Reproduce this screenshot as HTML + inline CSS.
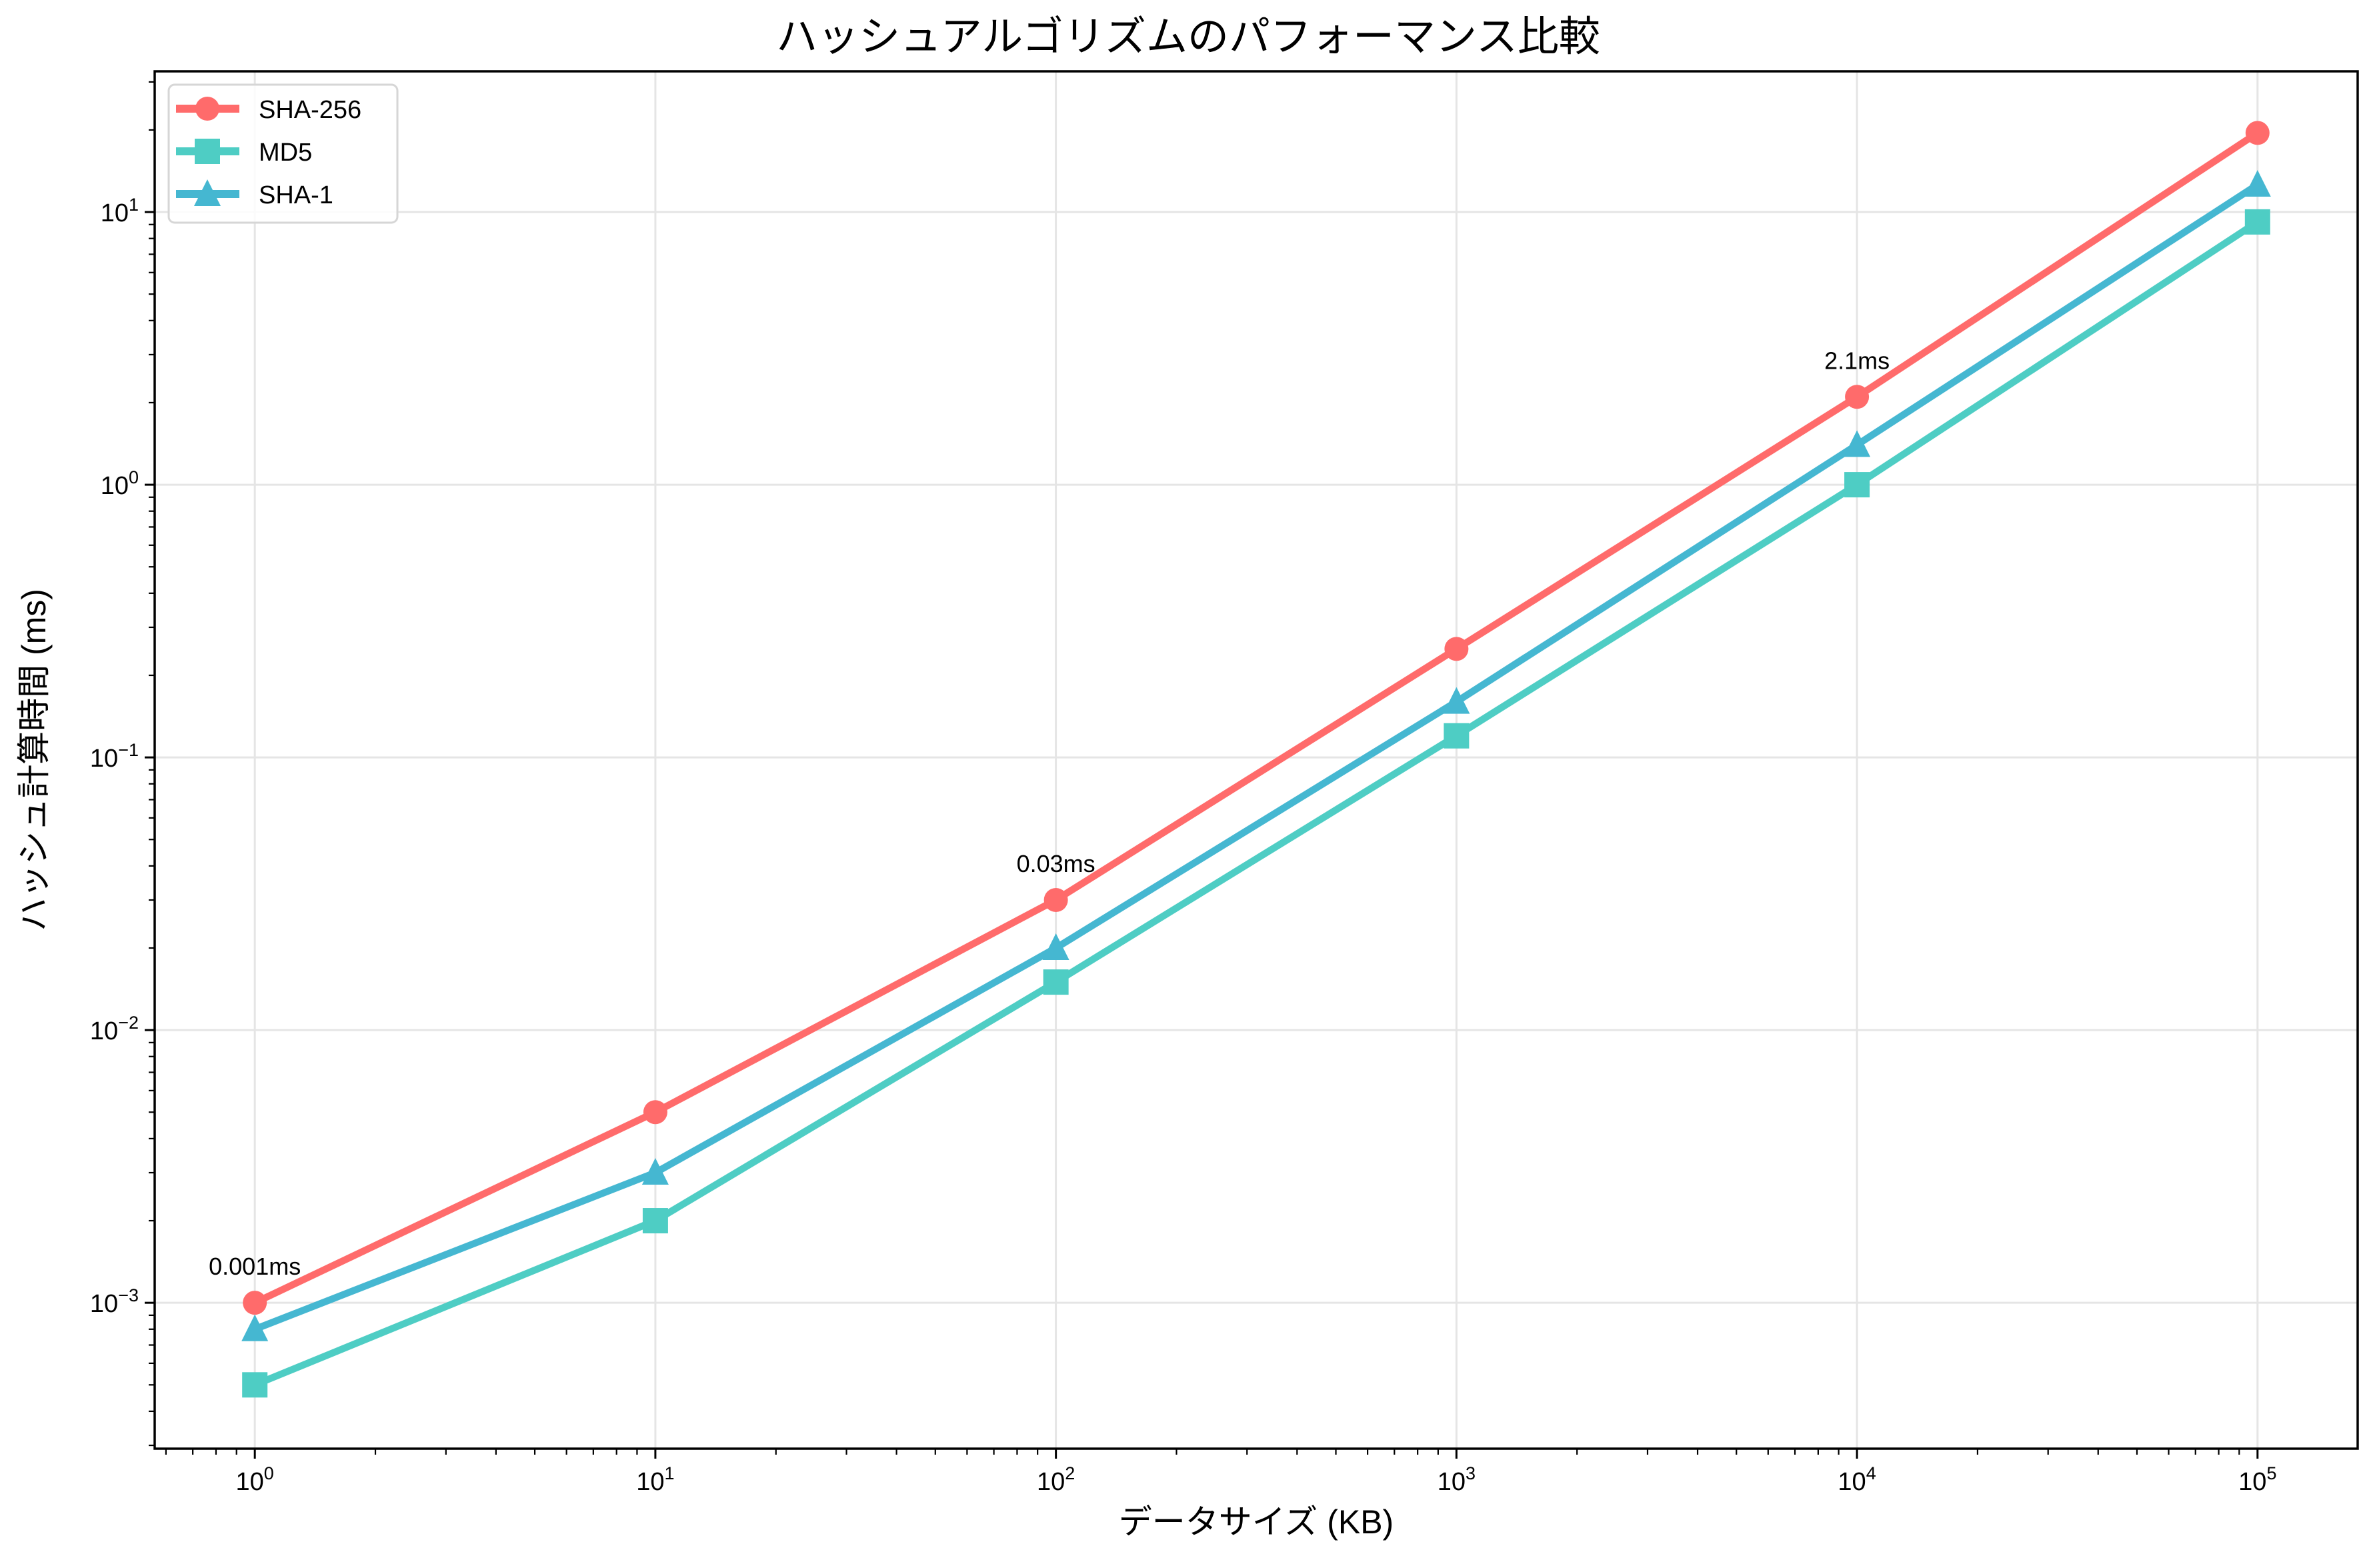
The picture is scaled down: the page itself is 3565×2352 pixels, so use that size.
<!DOCTYPE html>
<html><head><meta charset="utf-8"><style>
html,body{margin:0;padding:0;background:#fff;}
svg{display:block;font-family:"Liberation Sans","Noto Sans CJK JP",sans-serif;}
</style></head><body>
<svg id="chart" width="3565" height="2352" viewBox="0 0 3565 2352" xmlns="http://www.w3.org/2000/svg">
<rect width="3565" height="2352" fill="#fff"/>
<g id="grid"></g>
<g id="series"></g>
<g id="axes"></g>
<text x="1782" y="76" text-anchor="middle" font-size="62">ハッシュアルゴリズムのパフォーマンス比較</text>
<text x="1884" y="2300" text-anchor="middle" font-size="50">データサイズ (KB)</text>
<text transform="translate(68,1140) rotate(-90)" text-anchor="middle" font-size="50">ハッシュ計算時間 (ms)</text>
<g id="legend"></g>
</svg>
<script>
const sizes = [1, 10, 100, 1000, 10000, 100000];
const sha256 = [0.001, 0.005, 0.03, 0.25, 2.1, 19.5];
const md5 = [0.0005, 0.002, 0.015, 0.12, 1.0, 9.2];
const sha1 = [0.0008, 0.003, 0.02, 0.16, 1.4, 12.6];
const annotIdx = [0, 2, 4];
const annotLabels = ["0.001ms", "0.03ms", "2.1ms"];
const xTickExp = [0, 1, 2, 3, 4, 5];
const yTickExp = [-3, -2, -1, 0, 1];

const L=232,R=3536,T=107,B=2173;
const xMin=-0.25,xMax=5.25,yMin=-3.535,yMax=1.516;
const NS="http://www.w3.org/2000/svg";
function X(v){return L+(Math.log10(v)-xMin)/(xMax-xMin)*(R-L);}
function Y(v){return B-(Math.log10(v)-yMin)/(yMax-yMin)*(B-T);}
function mk(tag,attrs,parent){const e=document.createElementNS(NS,tag);for(const k in attrs)e.setAttribute(k,attrs[k]);parent.appendChild(e);return e;}
const grid=document.getElementById('grid'),axes=document.getElementById('axes'),ser=document.getElementById('series'),leg=document.getElementById('legend');

// grid + ticks
xTickExp.forEach(e=>{const x=X(Math.pow(10,e));
 const g=mk('line',{x1:x,x2:x,y1:T,y2:B,stroke:'#e5e5e5','stroke-width':3},grid);
 
 
 const t=mk('line',{x1:x,x2:x,y1:B,y2:B+15,stroke:'#000','stroke-width':3},axes);
 
 
 const lb=mk('text',{x:x,y:B+62,'text-anchor':'middle','font-size':38},axes);
 
 
 lb.innerHTML='10<tspan dy="-16" font-size="27">'+e+'</tspan>';
});
for(let e=-1;e<=5;e++){for(let m=2;m<=9;m++){const v=m*Math.pow(10,e);const lv=Math.log10(v);if(lv<xMin||lv>xMax)continue;const x=X(v);
 const t=mk('line',{x1:x,x2:x,y1:B,y2:B+9,stroke:'#000','stroke-width':2.2},axes);
 
 }}
yTickExp.forEach(e=>{const y=Y(Math.pow(10,e));
 const g=mk('line',{x1:L,x2:R,y1:y,y2:y,stroke:'#e5e5e5','stroke-width':3},grid);
 
 
 const t=mk('line',{x1:L-15,x2:L,y1:y,y2:y,stroke:'#000','stroke-width':3},axes);
 
 
 const lb=mk('text',{x:L-24,y:y+14,'text-anchor':'end','font-size':38},axes);
 
 
 lb.innerHTML='10<tspan dy="-16" font-size="27">'+(e<0?'\u2212'+(-e):e)+'</tspan>';
});
for(let e=-4;e<=1;e++){for(let m=2;m<=9;m++){const v=m*Math.pow(10,e);const lv=Math.log10(v);if(lv<yMin||lv>yMax)continue;const y=Y(v);
 const t=mk('line',{x1:L-9,x2:L,y1:y,y2:y,stroke:'#000','stroke-width':2.2},axes);
 
 }}
const frame=mk('rect',{x:L,y:T,width:R-L,height:B-T,fill:'none',stroke:'#000','stroke-width':3.5},axes);



function marker(kind,x,y,color,parent){
 let m;
 if(kind==='circle') m=mk('circle',{cx:x,cy:y,r:18,fill:color},parent);
 else if(kind==='square') m=mk('rect',{x:x-19,y:y-19,width:38,height:38,fill:color},parent);
 else m=mk('polygon',{points:`${x},${y-22} ${x+20},${y+18} ${x-20},${y+18}`,fill:color},parent);
 return m;
}
const seriesDefs=[
 {name:'SHA-256',vals:sha256,color:'#ff6b6b',kind:'circle',key:'sha-256'},
 {name:'MD5',vals:md5,color:'#4ecdc4',kind:'square',key:'md5'},
 {name:'SHA-1',vals:sha1,color:'#45b7d1',kind:'triangle',key:'sha-1'}];
// draw order: SHA-256, MD5, SHA-1
seriesDefs.forEach(s=>{
 const g=mk('g',{},ser);
 
 
 const pts=s.vals.map((v,i)=>X(sizes[i])+','+Y(v)).join(' ');
 const pl=mk('polyline',{points:pts,fill:'none',stroke:s.color,'stroke-width':10.5,'stroke-linejoin':'round'},g);
 
 
 s.vals.forEach((v,i)=>{const m=marker(s.kind,X(sizes[i]),Y(v),s.color,g);
  
  });
});
annotIdx.forEach((idx,k)=>{
 const t=mk('text',{x:X(sizes[idx]),y:Y(sha256[idx])-42,'text-anchor':'middle','font-size':36},ser);
 
 
 t.textContent=annotLabels[k];
});
// legend
const box=mk('rect',{x:253,y:127,width:343,height:207,rx:9,fill:'#fff','fill-opacity':0.85,stroke:'#d6d6d6','stroke-width':3},leg);


seriesDefs.forEach((s,i)=>{
 const y=163+i*64;
 const g=mk('g',{},leg);
 
 
 mk('line',{x1:264,x2:359,y1:y,y2:y,stroke:s.color,'stroke-width':12},g);
 marker(s.kind,311,y,s.color,g);
 const t=mk('text',{x:388,y:y+14,'font-size':38},g);
 t.textContent=s.name;
});
</script>
</body></html>
